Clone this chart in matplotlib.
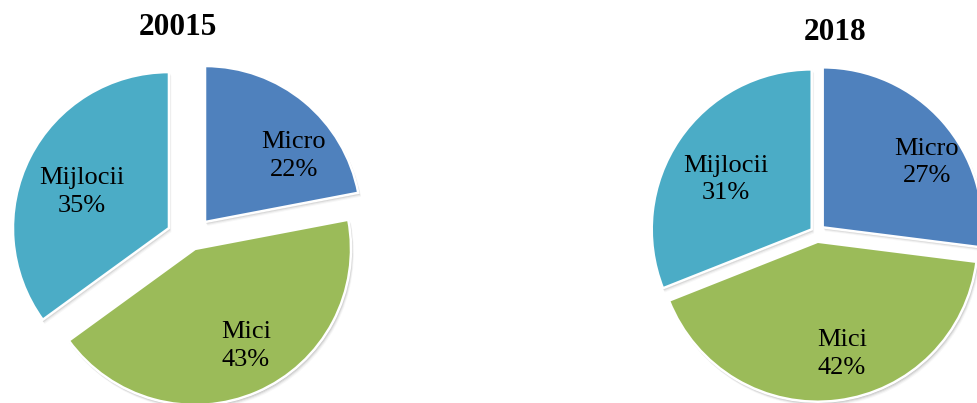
import matplotlib
matplotlib.use("Agg")
import matplotlib.pyplot as plt
from matplotlib.patches import Wedge

# ---- data ----
categories = ["Micro", "Mici", "Mijlocii"]
titles = ["20015", "2018"]
values_left = [22, 43, 35]
values_right = [27, 42, 31]

colors = ["#4F81BD", "#9BBB59", "#4BACC6"]

W, H = 977, 403
fig = plt.figure(figsize=(W / 100, H / 100), dpi=100)
ax = fig.add_axes([0, 0, 1, 1])
ax.set_xlim(0, W)
ax.set_ylim(0, H)
ax.set_aspect("equal")
ax.axis("off")

serif = ["Liberation Serif", "DejaVu Serif"]

# pie layout (pixel-space data coordinates, y up)
pies = [
    dict(vals=values_left, title=titles[0], center=(190.8, H - 239.2), r=156,
         explode=[22.3, 10.6, 24.5], title_xy=(177.5, H - 27.5),
         lab_off=[(89, 66), (51, -97), (-87, 36)]),
    dict(vals=values_right, title=titles[1], center=(816.6, H - 232.7), r=160,
         explode=[8.1, 9.1, 5.9], title_xy=(835, H - 32.5),
         lab_off=[(104, 65), (24, -112), (-86, 50)]),
]

for p in pies:
    wedges, _ = ax.pie(p["vals"], colors=colors, startangle=90, counterclock=False,
                       center=p["center"], radius=p["r"], explode=p["explode"],
                       wedgeprops=dict(edgecolor="white", linewidth=1.8, zorder=3),
                       frame=True)
    # soft shadow behind each wedge
    for w in wedges:
        for k, (off, a) in enumerate([(1.0, 0.10), (2.0, 0.08), (3.0, 0.05), (4.0, 0.03)]):
            sh = Wedge((w.center[0] + off * 0.6, w.center[1] - off), w.r + 0.5,
                       w.theta1, w.theta2, facecolor="black", edgecolor="none",
                       alpha=a, zorder=1)
            ax.add_patch(sh)
    total = sum(p["vals"])
    for w, cat, v, off in zip(wedges, categories, p["vals"], p["lab_off"]):
        cx, cy = w.center
        ax.text(cx + off[0], cy + off[1], f"{cat}\n{round(100 * v / total)}%",
                ha="center", va="center", fontsize=19, family=serif,
                color="black", linespacing=1.33, zorder=5)
    ax.text(p["title_xy"][0], p["title_xy"][1], p["title"], ha="center",
            va="center", fontsize=22.5, fontweight="bold", family=serif)

ax.set_xlim(0, W)
ax.set_ylim(0, H)
ax.axis("off")
fig.savefig("out.png", dpi=100)
